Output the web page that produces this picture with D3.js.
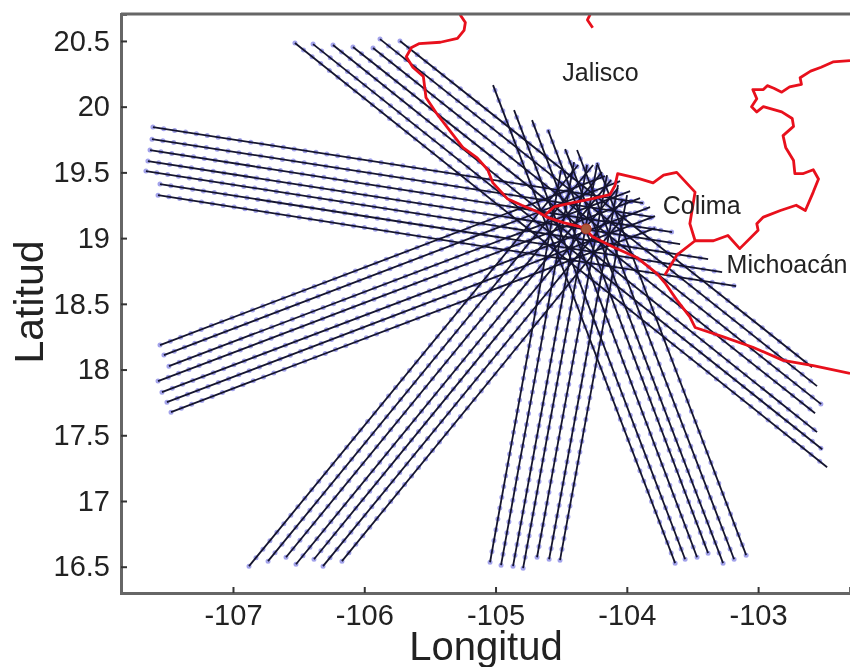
<!DOCTYPE html>
<html><head><meta charset="utf-8">
<script src="https://cdn.jsdelivr.net/npm/d3@7/dist/d3.min.js"></script>
<style>
html,body{margin:0;padding:0;background:#fff;overflow:hidden}
svg{display:block;filter:blur(0.6px)}
text{font-family:"Liberation Sans",Arial,sans-serif;fill:#222}
</style></head><body>
<svg id="c" width="850" height="667"></svg>
<script>
// Each track: [lon start, lat start, lon end, lat end]
const tracksNW = [
 [-105.728,20.499,-102.589,18.018],[-105.880,20.514,-102.551,17.874],[-105.933,20.446,-102.520,17.737],
 [-106.086,20.454,-102.566,17.668],[-106.238,20.469,-102.551,17.524],[-106.390,20.476,-102.512,17.394],
 [-106.528,20.484,-102.474,17.257]];
const tracksWUpper = [
 [-107.610,19.845,-103.876,19.266],[-107.617,19.753,-103.800,19.160],[-107.632,19.670,-103.655,19.046],
 [-107.648,19.586,-103.594,18.954],[-107.663,19.510,-103.381,18.840],[-107.556,19.411,-103.274,18.741],
 [-107.571,19.327,-103.168,18.635]];
const tracksWLower = [
 [-107.556,18.186,-104.166,19.472],[-107.526,18.110,-104.051,19.434],[-107.488,18.026,-103.975,19.358],
 [-107.571,17.912,-103.899,19.304],[-107.541,17.828,-103.823,19.236],[-107.503,17.752,-103.785,19.167],
 [-107.472,17.676,-103.785,19.076]];
const tracksSW = [
 [-106.878,16.504,-104.371,19.556],[-106.733,16.542,-104.257,19.556],[-106.596,16.572,-104.189,19.502],
 [-106.520,16.519,-104.120,19.441],[-106.383,16.557,-104.067,19.381],[-106.314,16.504,-104.029,19.289],
 [-106.170,16.542,-104.013,19.175]];
const tracksS = [
 [-105.042,16.534,-104.501,19.517],[-104.958,16.512,-104.402,19.578],[-104.867,16.504,-104.303,19.556],
 [-104.790,16.489,-104.227,19.556],[-104.684,16.572,-104.151,19.479],[-104.592,16.557,-104.067,19.403],
 [-104.509,16.550,-103.998,19.327]];
const tracksSSE = [
 [-103.632,16.527,-105.019,20.164],[-103.556,16.557,-104.859,19.974],[-103.465,16.572,-104.722,19.898],
 [-103.381,16.603,-104.600,19.822],[-103.267,16.527,-104.470,19.677],[-103.183,16.557,-104.379,19.670],
 [-103.091,16.588,-104.227,19.571]];

const coastBorder = [[-105.27,20.70],[-105.23,20.64],[-105.24,20.58],[-105.29,20.52],[-105.42,20.49],[-105.58,20.48],[-105.64,20.45],[-105.68,20.38],[-105.63,20.30],[-105.55,20.23],[-105.53,20.07],[-105.45,19.95],[-105.35,19.82],[-105.25,19.69],[-105.14,19.61],[-105.06,19.52],[-105.02,19.42],[-104.91,19.30],[-104.80,19.25],[-104.68,19.20],[-104.61,19.16],[-104.49,19.12],[-104.33,19.08],[-104.26,19.01],[-104.10,18.93],[-103.92,18.85],[-103.77,18.73],[-103.71,18.66],[-103.62,18.53],[-103.52,18.40],[-103.48,18.32],[-103.27,18.25],[-103.04,18.17],[-102.81,18.07],[-102.58,18.03],[-102.30,17.97]];
const topSpike = [[-104.28,20.70],[-104.30,20.66],[-104.26,20.60]];
const colimaBorder = [[-104.62,19.18],[-104.55,19.24],[-104.41,19.27],[-104.26,19.30],[-104.13,19.33],[-104.09,19.40],[-104.07,19.49],[-103.98,19.47],[-103.90,19.45],[-103.80,19.42],[-103.72,19.48],[-103.62,19.50],[-103.48,19.35],[-103.52,19.11],[-103.48,18.98],[-103.62,18.87],[-103.71,18.72]];
const michoacanBorder = [[-103.48,18.98],[-103.34,18.98],[-103.23,19.02],[-103.14,18.92],[-103.00,19.06],[-103.01,19.11],[-102.96,19.16],[-102.83,19.21],[-102.71,19.25],[-102.64,19.21],[-102.58,19.35],[-102.54,19.45],[-102.58,19.52],[-102.66,19.49],[-102.72,19.49],[-102.73,19.59],[-102.79,19.69],[-102.81,19.78],[-102.73,19.85],[-102.74,19.91],[-102.82,19.96],[-102.96,20.00],[-103.01,19.96],[-103.05,20.00],[-103.01,20.06],[-103.04,20.13],[-102.96,20.13],[-102.93,20.16],[-102.88,20.14],[-102.82,20.11],[-102.76,20.15],[-102.67,20.17],[-102.68,20.22],[-102.60,20.27],[-102.52,20.30],[-102.43,20.34],[-102.30,20.35]];

const epicenter = [-104.31,19.07];
const placeNames = ["Jalisco","Colima","Michoacán"];
const placeLon = [-104.2,-103.43,-103.24];
const placeLat = [20.26,19.25,18.80];
const lonTicks = [-107,-106,-105,-104,-103];
const latTicks = [16.5,17,17.5,18,18.5,19,19.5,20,20.5];

const L=121, R=850, T=14, B=593;
const x=d3.scaleLinear().domain([-107.853,-102.30]).range([L,R]);
const y=d3.scaleLinear().domain([16.30,20.705]).range([B,T]);
const svg=d3.select("#c");
svg.append("defs").append("clipPath").attr("id","plot").append("rect")
  .attr("x",L).attr("y",T).attr("width",R-L).attr("height",B-T);
const plot=svg.append("g").attr("clip-path","url(#plot)");

const tracks=[...tracksNW,...tracksWUpper,...tracksWLower,...tracksSW,...tracksS,...tracksSSE];
plot.selectAll("line.dots").data(tracks).join("line").attr("class","dots")
  .attr("x1",d=>x(d[0])).attr("y1",d=>y(d[1])).attr("x2",d=>x(d[2])).attr("y2",d=>y(d[3]))
  .attr("stroke","#1a1acc").attr("stroke-opacity",.4).attr("stroke-width",5)
  .attr("stroke-linecap","round").attr("stroke-dasharray","0 11");
plot.selectAll("line.track").data(tracks).join("line").attr("class","track")
  .attr("x1",d=>x(d[0])).attr("y1",d=>y(d[1])).attr("x2",d=>x(d[2])).attr("y2",d=>y(d[3]))
  .attr("stroke","#15152e").attr("stroke-width",1.8);

const path=d3.line().x(d=>x(d[0])).y(d=>y(d[1]));
plot.selectAll("path.border").data([coastBorder,topSpike,colimaBorder,michoacanBorder]).join("path")
  .attr("class","border").attr("d",path).attr("fill","none").attr("stroke","#e8101c")
  .attr("stroke-width",2.8).attr("stroke-linejoin","round");
plot.append("circle").attr("cx",x(epicenter[0])).attr("cy",y(epicenter[1])).attr("r",5)
  .attr("fill","#a8583a").attr("stroke","#b03020");

plot.selectAll("text.place").data(placeNames).join("text").attr("class","place")
  .attr("x",(d,i)=>x(placeLon[i])).attr("y",(d,i)=>y(placeLat[i]))
  .attr("text-anchor",(d,i)=>i===2?"start":"middle").attr("dominant-baseline","central")
  .attr("font-size",25).text(d=>d);

const ax=svg.append("g").attr("transform",`translate(0,${B})`)
  .call(d3.axisBottom(x).tickValues(lonTicks).tickFormat(d=>String(d)).tickSize(-6).tickPadding(11));
const ay=svg.append("g").attr("transform",`translate(${L},0)`)
  .call(d3.axisLeft(y).tickValues(latTicks).tickFormat(d=>String(d)).tickSize(-6).tickPadding(11));
[ax,ay].forEach(g=>{
  g.selectAll("text").attr("font-size",29).attr("font-family",'"Liberation Sans",Arial,sans-serif').attr("fill","#222");
  g.selectAll(".tick line").attr("stroke","#333").attr("stroke-width",2);
  g.select(".domain").attr("stroke","#666").attr("stroke-width",3);
});
svg.append("line").attr("x1",L).attr("x2",R).attr("y1",T).attr("y2",T).attr("stroke","#666").attr("stroke-width",3);

svg.append("text").attr("x",486).attr("y",660).attr("text-anchor","middle").attr("font-size",40).text("Longitud");
svg.append("text").attr("transform","translate(43,302) rotate(-90)").attr("text-anchor","middle").attr("font-size",41).text("Latitud");
</script>
</body></html>
